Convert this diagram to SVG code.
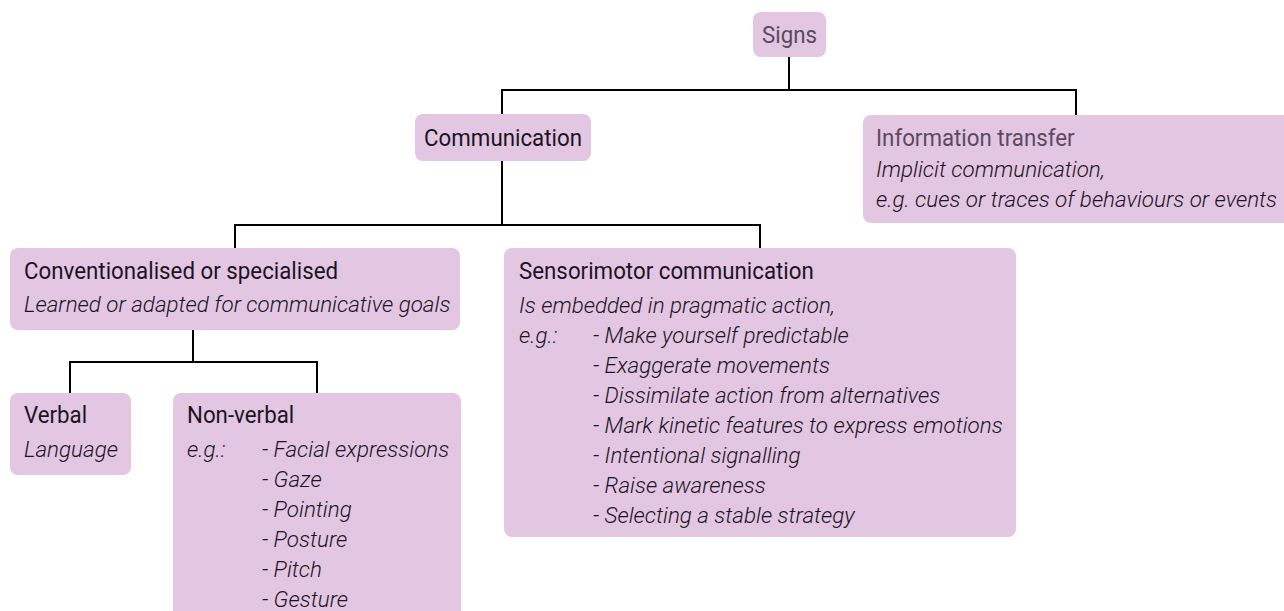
<svg xmlns="http://www.w3.org/2000/svg" width="1284" height="611" viewBox="0 0 1284 611">
<style>
  .box { fill: #e2c6e2; }
  text { font-family: Roboto, "Liberation Sans", sans-serif; font-size: 22.3px; }
  .h { fill: #1c1424; font-weight: 400; }
  .hm { fill: #5c4a62; font-weight: 400; }
  .i { fill: #1c1424; font-style: italic; font-weight: 300; font-size: 22.4px; }
  .conn { fill: none; stroke: #000; stroke-width: 2; }
</style>
<rect width="1284" height="611" fill="#ffffff"/>
<g id="connectors" class="conn">
  <path d="M789 57 V90 M502 90 H1076 M502 89 V115 M1076 89 V115"/>
  <path d="M502 161 V225 M235 225 H760 M235 224 V248 M760 224 V248"/>
  <path d="M193 330 V362 M70 362 H317 M70 361 V393 M317 361 V393"/>
</g>
<g id="signs">
  <rect class="box" x="753" y="12" width="73" height="45" rx="8"/>
  <text class="hm" text-anchor="middle" transform="translate(789.5 43) scale(1 1.1)">Signs</text>
</g>
<g id="communication">
  <rect class="box" x="415" y="114" width="176" height="47" rx="8"/>
  <text class="h" text-anchor="middle" transform="translate(503 146) scale(1 1.1)">Communication</text>
</g>
<g id="information-transfer">
  <rect class="box" x="863" y="115" width="430" height="108" rx="8"/>
  <text class="hm" transform="translate(876 146) scale(1 1.1)">Information transfer</text>
  <text class="i" x="876" y="177">Implicit communication,</text>
  <text class="i" x="876" y="207">e.g. cues or traces of behaviours or events</text>
</g>
<g id="conventionalised">
  <rect class="box" x="10" y="248" width="450" height="82" rx="8"/>
  <text class="h" transform="translate(24 279) scale(1 1.1)">Conventionalised or specialised</text>
  <text class="i" x="24" y="312">Learned or adapted for communicative goals</text>
</g>
<g id="sensorimotor">
  <rect class="box" x="504" y="248" width="512" height="289" rx="8"/>
  <text class="h" transform="translate(519 279) scale(1 1.1)">Sensorimotor communication</text>
  <text class="i" x="519" y="313">Is embedded in pragmatic action,</text>
  <text class="i" x="519" y="343">e.g.:</text>
  <text class="i" x="593" y="343">- Make yourself predictable</text>
  <text class="i" x="593" y="373">- Exaggerate movements</text>
  <text class="i" x="593" y="403">- Dissimilate action from alternatives</text>
  <text class="i" x="593" y="433">- Mark kinetic features to express emotions</text>
  <text class="i" x="593" y="463">- Intentional signalling</text>
  <text class="i" x="593" y="493">- Raise awareness</text>
  <text class="i" x="593" y="523">- Selecting a stable strategy</text>
</g>
<g id="verbal">
  <rect class="box" x="10" y="393" width="121" height="82" rx="8"/>
  <text class="h" transform="translate(24 423) scale(1 1.1)">Verbal</text>
  <text class="i" x="24" y="457">Language</text>
</g>
<g id="non-verbal">
  <rect class="box" x="173" y="393" width="288" height="230" rx="8"/>
  <text class="h" transform="translate(187 423) scale(1 1.1)">Non-verbal</text>
  <text class="i" x="187" y="457">e.g.:</text>
  <text class="i" x="262" y="457">- Facial expressions</text>
  <text class="i" x="262" y="487">- Gaze</text>
  <text class="i" x="262" y="517">- Pointing</text>
  <text class="i" x="262" y="547">- Posture</text>
  <text class="i" x="262" y="577">- Pitch</text>
  <text class="i" x="262" y="607">- Gesture</text>
</g>
</svg>
